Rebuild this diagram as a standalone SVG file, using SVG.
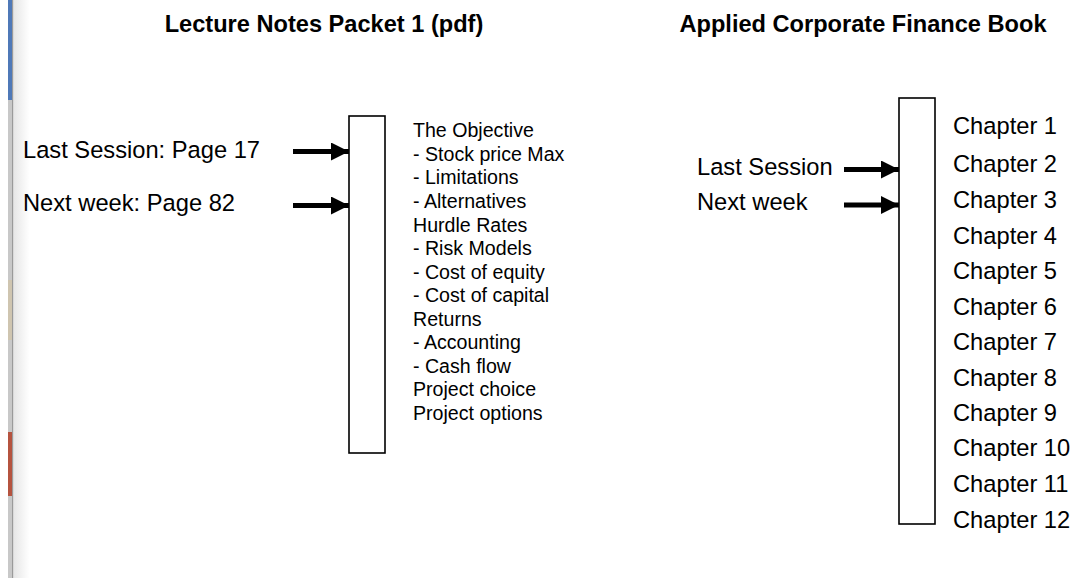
<svg xmlns="http://www.w3.org/2000/svg" width="1073" height="578" viewBox="0 0 1073 578">
  <style>
    .title { font-family: "Liberation Sans", Arial, sans-serif; font-weight: bold; font-size: 23.6px; fill: #000; }
    .lbl { font-family: "Liberation Sans", Arial, sans-serif; font-size: 23.7px; fill: #000; }
    .item { font-family: "Liberation Sans", Arial, sans-serif; font-size: 19.6px; fill: #000; }
    .box { fill: #fff; stroke: #000; stroke-width: 1.6; }
    .conn { stroke: #000; stroke-width: 5; fill: none; }
  </style>
  <defs>
    <linearGradient id="shade" x1="0" y1="0" x2="1" y2="0">
      <stop offset="0" stop-color="#e6e6e6"/>
      <stop offset="1" stop-color="#ffffff"/>
    </linearGradient>
    <marker id="arr" markerUnits="userSpaceOnUse" markerWidth="18" markerHeight="18" refX="18" refY="9" orient="auto">
      <path d="M0,0 L18,9 L0,18 Z" fill="#000"/>
    </marker>
  </defs>
  <rect width="1073" height="578" fill="#fff"/>
  <!-- window edge artifact -->
  <g id="edge">
    <rect x="8" y="0" width="4" height="578" fill="#c8c8c8"/>
    <rect x="8" y="0" width="4" height="100" fill="#4f79b8"/>
    <rect x="8" y="280" width="4" height="60" fill="#cfc5b0"/>
    <rect x="8" y="432" width="4" height="64" fill="#b5533f"/>
    <rect x="12" y="0" width="1.5" height="578" fill="#9a9a9a"/>
    <rect x="13.5" y="0" width="16" height="578" fill="url(#shade)"/>
  </g>

  <g id="title-left"><text class="title" x="324" y="32" text-anchor="middle">Lecture Notes Packet 1 (pdf)</text></g>
  <g id="title-right"><text class="title" x="863" y="32" text-anchor="middle">Applied Corporate Finance Book</text></g>

  <g id="lbl-last-left"><text class="lbl" x="23" y="157.5">Last Session: Page 17</text></g>
  <g id="lbl-next-left"><text class="lbl" x="23" y="210.5">Next week: Page 82</text></g>

  <g id="packet-bar"><rect class="box" x="349" y="116" width="36" height="337"/></g>

  <g id="packet-contents">
    <text class="item" x="413" y="137.3">The Objective</text>
    <text class="item" x="413" y="160.9">- Stock price Max</text>
    <text class="item" x="413" y="184.4">- Limitations</text>
    <text class="item" x="413" y="208">- Alternatives</text>
    <text class="item" x="413" y="231.5">Hurdle Rates</text>
    <text class="item" x="413" y="255.1">- Risk Models</text>
    <text class="item" x="413" y="278.7">- Cost of equity</text>
    <text class="item" x="413" y="302.2">- Cost of capital</text>
    <text class="item" x="413" y="325.8">Returns</text>
    <text class="item" x="413" y="349.3">- Accounting</text>
    <text class="item" x="413" y="372.9">- Cash flow</text>
    <text class="item" x="413" y="396.4">Project choice</text>
    <text class="item" x="413" y="420">Project options</text>
  </g>

  <g id="lbl-last-right"><text class="lbl" x="697" y="175.3">Last Session</text></g>
  <g id="lbl-next-right"><text class="lbl" x="697" y="210.3">Next week</text></g>

  <g id="book-bar"><rect class="box" x="899" y="98" width="36" height="426"/></g>

  <g id="book-chapters">
    <text class="lbl" x="953" y="134">Chapter 1</text>
    <text class="lbl" x="953" y="172">Chapter 2</text>
    <text class="lbl" x="953" y="208">Chapter 3</text>
    <text class="lbl" x="953" y="244">Chapter 4</text>
    <text class="lbl" x="953" y="279">Chapter 5</text>
    <text class="lbl" x="953" y="315">Chapter 6</text>
    <text class="lbl" x="953" y="350">Chapter 7</text>
    <text class="lbl" x="953" y="386">Chapter 8</text>
    <text class="lbl" x="953" y="421">Chapter 9</text>
    <text class="lbl" x="953" y="456">Chapter 10</text>
    <text class="lbl" x="953" y="492">Chapter 11</text>
    <text class="lbl" x="953" y="528">Chapter 12</text>
  </g>

  <g id="connectors">
    <line class="conn" x1="293" y1="151.5" x2="349" y2="151.5" marker-end="url(#arr)"/>
    <line class="conn" x1="293" y1="205.5" x2="349" y2="205.5" marker-end="url(#arr)"/>
    <line class="conn" x1="844" y1="169.5" x2="899" y2="169.5" marker-end="url(#arr)"/>
    <line class="conn" x1="844" y1="205" x2="899" y2="205" marker-end="url(#arr)"/>
  </g>
</svg>
